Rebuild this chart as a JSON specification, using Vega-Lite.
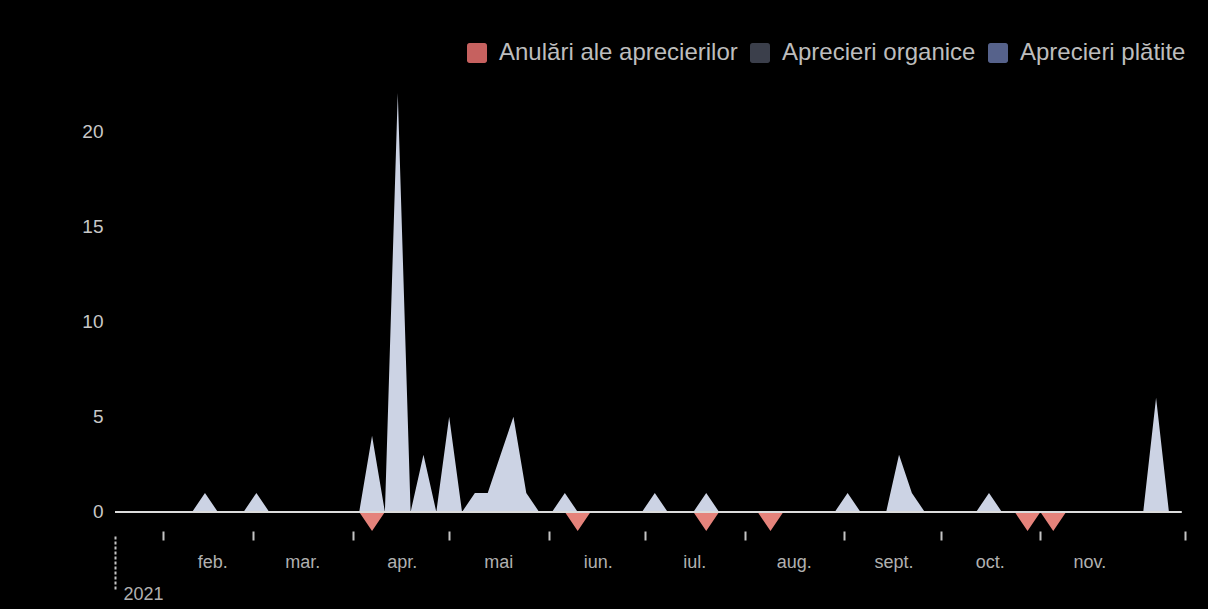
{
  "$schema": "https://vega.github.io/schema/vega-lite/v6.json",
  "width": 1070,
  "height": 438,
  "autosize": {"type": "none"},
  "padding": {"left": 115, "top": 93, "right": 23, "bottom": 78},
  "background": "#000000",
  "config": {"view": {"stroke": null}, "font": "Liberation Sans", "axis": {"title": null}},
  "datasets": {
    "serie": [
      {"data": "2021/01/17", "aprecieri": 0, "anulari": 0},
      {"data": "2021/01/21", "aprecieri": 0, "anulari": 0},
      {"data": "2021/01/25", "aprecieri": 0, "anulari": 0},
      {"data": "2021/01/29", "aprecieri": 0, "anulari": 0},
      {"data": "2021/02/02", "aprecieri": 0, "anulari": 0},
      {"data": "2021/02/06", "aprecieri": 0, "anulari": 0},
      {"data": "2021/02/10", "aprecieri": 0, "anulari": 0},
      {"data": "2021/02/14", "aprecieri": 1, "anulari": 0},
      {"data": "2021/02/18", "aprecieri": 0, "anulari": 0},
      {"data": "2021/02/22", "aprecieri": 0, "anulari": 0},
      {"data": "2021/02/26", "aprecieri": 0, "anulari": 0},
      {"data": "2021/03/02", "aprecieri": 1, "anulari": 0},
      {"data": "2021/03/06", "aprecieri": 0, "anulari": 0},
      {"data": "2021/03/10", "aprecieri": 0, "anulari": 0},
      {"data": "2021/03/14", "aprecieri": 0, "anulari": 0},
      {"data": "2021/03/18", "aprecieri": 0, "anulari": 0},
      {"data": "2021/03/22", "aprecieri": 0, "anulari": 0},
      {"data": "2021/03/26", "aprecieri": 0, "anulari": 0},
      {"data": "2021/03/30", "aprecieri": 0, "anulari": 0},
      {"data": "2021/04/03", "aprecieri": 0, "anulari": 0},
      {"data": "2021/04/07", "aprecieri": 4, "anulari": -1},
      {"data": "2021/04/11", "aprecieri": 0, "anulari": 0},
      {"data": "2021/04/15", "aprecieri": 22, "anulari": 0},
      {"data": "2021/04/19", "aprecieri": 0, "anulari": 0},
      {"data": "2021/04/23", "aprecieri": 3, "anulari": 0},
      {"data": "2021/04/27", "aprecieri": 0, "anulari": 0},
      {"data": "2021/05/01", "aprecieri": 5, "anulari": 0},
      {"data": "2021/05/05", "aprecieri": 0, "anulari": 0},
      {"data": "2021/05/09", "aprecieri": 1, "anulari": 0},
      {"data": "2021/05/13", "aprecieri": 1, "anulari": 0},
      {"data": "2021/05/17", "aprecieri": 3, "anulari": 0},
      {"data": "2021/05/21", "aprecieri": 5, "anulari": 0},
      {"data": "2021/05/25", "aprecieri": 1, "anulari": 0},
      {"data": "2021/05/29", "aprecieri": 0, "anulari": 0},
      {"data": "2021/06/02", "aprecieri": 0, "anulari": 0},
      {"data": "2021/06/06", "aprecieri": 1, "anulari": 0},
      {"data": "2021/06/10", "aprecieri": 0, "anulari": -1},
      {"data": "2021/06/14", "aprecieri": 0, "anulari": 0},
      {"data": "2021/06/18", "aprecieri": 0, "anulari": 0},
      {"data": "2021/06/22", "aprecieri": 0, "anulari": 0},
      {"data": "2021/06/26", "aprecieri": 0, "anulari": 0},
      {"data": "2021/06/30", "aprecieri": 0, "anulari": 0},
      {"data": "2021/07/04", "aprecieri": 1, "anulari": 0},
      {"data": "2021/07/08", "aprecieri": 0, "anulari": 0},
      {"data": "2021/07/12", "aprecieri": 0, "anulari": 0},
      {"data": "2021/07/16", "aprecieri": 0, "anulari": 0},
      {"data": "2021/07/20", "aprecieri": 1, "anulari": -1},
      {"data": "2021/07/24", "aprecieri": 0, "anulari": 0},
      {"data": "2021/07/28", "aprecieri": 0, "anulari": 0},
      {"data": "2021/08/01", "aprecieri": 0, "anulari": 0},
      {"data": "2021/08/05", "aprecieri": 0, "anulari": 0},
      {"data": "2021/08/09", "aprecieri": 0, "anulari": -1},
      {"data": "2021/08/13", "aprecieri": 0, "anulari": 0},
      {"data": "2021/08/17", "aprecieri": 0, "anulari": 0},
      {"data": "2021/08/21", "aprecieri": 0, "anulari": 0},
      {"data": "2021/08/25", "aprecieri": 0, "anulari": 0},
      {"data": "2021/08/29", "aprecieri": 0, "anulari": 0},
      {"data": "2021/09/02", "aprecieri": 1, "anulari": 0},
      {"data": "2021/09/06", "aprecieri": 0, "anulari": 0},
      {"data": "2021/09/10", "aprecieri": 0, "anulari": 0},
      {"data": "2021/09/14", "aprecieri": 0, "anulari": 0},
      {"data": "2021/09/18", "aprecieri": 3, "anulari": 0},
      {"data": "2021/09/22", "aprecieri": 1, "anulari": 0},
      {"data": "2021/09/26", "aprecieri": 0, "anulari": 0},
      {"data": "2021/09/30", "aprecieri": 0, "anulari": 0},
      {"data": "2021/10/04", "aprecieri": 0, "anulari": 0},
      {"data": "2021/10/08", "aprecieri": 0, "anulari": 0},
      {"data": "2021/10/12", "aprecieri": 0, "anulari": 0},
      {"data": "2021/10/16", "aprecieri": 1, "anulari": 0},
      {"data": "2021/10/20", "aprecieri": 0, "anulari": 0},
      {"data": "2021/10/24", "aprecieri": 0, "anulari": 0},
      {"data": "2021/10/28", "aprecieri": 0, "anulari": -1},
      {"data": "2021/11/01", "aprecieri": 0, "anulari": 0},
      {"data": "2021/11/05", "aprecieri": 0, "anulari": -1},
      {"data": "2021/11/09", "aprecieri": 0, "anulari": 0},
      {"data": "2021/11/13", "aprecieri": 0, "anulari": 0},
      {"data": "2021/11/17", "aprecieri": 0, "anulari": 0},
      {"data": "2021/11/21", "aprecieri": 0, "anulari": 0},
      {"data": "2021/11/25", "aprecieri": 0, "anulari": 0},
      {"data": "2021/11/29", "aprecieri": 0, "anulari": 0},
      {"data": "2021/12/03", "aprecieri": 0, "anulari": 0},
      {"data": "2021/12/07", "aprecieri": 6, "anulari": 0},
      {"data": "2021/12/11", "aprecieri": 0, "anulari": 0},
      {"data": "2021/12/15", "aprecieri": 0, "anulari": 0}
    ],
    "legenda": [
      {"serie": "Anulări ale aprecierilor"},
      {"serie": "Aprecieri organice"},
      {"serie": "Aprecieri plătite"}
    ],
    "baza": [
      {"start": "2021/01/17", "sfarsit": "2021/12/15", "valoare": 0}
    ]
  },
  "layer": [
    {
      "data": {"name": "serie"},
      "mark": {"type": "area", "color": "#e5837b", "interpolate": "linear"},
      "encoding": {
        "x": {
          "field": "data",
          "type": "temporal",
          "scale": {
            "domain": [
              {"year": 2021, "month": 1, "date": 17},
              {"year": 2021, "month": 12, "date": 16}
            ],
            "nice": false
          },
          "axis": {
            "orient": "bottom",
            "values": [
              {"year": 2021, "month": 2, "date": 1},
              {"year": 2021, "month": 3, "date": 1},
              {"year": 2021, "month": 4, "date": 1},
              {"year": 2021, "month": 5, "date": 1},
              {"year": 2021, "month": 6, "date": 1},
              {"year": 2021, "month": 7, "date": 1},
              {"year": 2021, "month": 8, "date": 1},
              {"year": 2021, "month": 9, "date": 1},
              {"year": 2021, "month": 10, "date": 1},
              {"year": 2021, "month": 11, "date": 1},
              {"year": 2021, "month": 12, "date": 16}
            ],
            "labelExpr": "date(datum.value) == 1 ? ['ian.','feb.','mar.','apr.','mai','iun.','iul.','aug.','sept.','oct.','nov.','dec.'][month(datum.value)] : ''",
            "offset": 0,
            "domain": false,
            "grid": false,
            "tickSize": 9,
            "tickWidth": 2,
            "tickColor": "#c4c4c4",
            "labelOffset": 49,
            "labelPadding": 13,
            "labelFontSize": 18,
            "labelColor": "#b0b0b0",
            "labelFlush": false,
            "labelOverlap": false,
            "labelBound": false,
            "title": null
          }
        },
        "y": {
          "field": "anulari",
          "type": "quantitative",
          "scale": {"domain": [-1, 22], "nice": false},
          "axis": {
            "values": [0, 5, 10, 15, 20],
            "domain": false,
            "ticks": false,
            "grid": false,
            "labelPadding": 12,
            "labelFontSize": 19,
            "labelColor": "#c8c8c8",
            "title": null
          }
        },
        "y2": {"datum": 0}
      }
    },
    {
      "data": {"name": "serie"},
      "mark": {"type": "area", "color": "#ccd3e4", "interpolate": "linear"},
      "encoding": {
        "x": {
          "field": "data",
          "type": "temporal",
          "axis": {
            "orient": "bottom",
            "values": [{"year": 2021, "month": 1, "date": 17}],
            "labelExpr": "'2021'",
            "offset": 5,
            "domain": false,
            "grid": false,
            "tickSize": 53,
            "tickWidth": 2,
            "tickDash": [3, 2],
            "tickColor": "#c4c4c4",
            "labelAlign": "left",
            "labelOffset": 8,
            "labelPadding": -4,
            "labelFontSize": 18,
            "labelColor": "#b0b0b0",
            "labelFlush": false,
            "labelBound": false,
            "title": null
          }
        },
        "y": {
          "field": "aprecieri",
          "type": "quantitative",
          "axis": {
            "values": [0, 5, 10, 15, 20],
            "domain": false,
            "ticks": false,
            "grid": false,
            "labelPadding": 12,
            "labelFontSize": 19,
            "labelColor": "#c8c8c8",
            "title": null
          }
        },
        "y2": {"datum": 0}
      }
    },
    {
      "data": {"name": "baza"},
      "mark": {"type": "rule", "color": "#dcdcdc", "strokeWidth": 2},
      "encoding": {
        "x": {"field": "start", "type": "temporal", "axis": null},
        "x2": {"field": "sfarsit"},
        "y": {
          "field": "valoare",
          "type": "quantitative",
          "axis": {
            "values": [0, 5, 10, 15, 20],
            "domain": false,
            "ticks": false,
            "grid": false,
            "labelPadding": 12,
            "labelFontSize": 19,
            "labelColor": "#c8c8c8",
            "title": null
          }
        }
      }
    },
    {
      "data": {"name": "legenda"},
      "mark": {"type": "point", "filled": true, "opacity": 0, "shape": "square"},
      "encoding": {
        "color": {
          "field": "serie",
          "type": "nominal",
          "scale": {
            "domain": ["Anulări ale aprecierilor", "Aprecieri organice", "Aprecieri plătite"],
            "range": ["#c6615f", "#3b3f4b", "#56628b"]
          },
          "legend": {
            "orient": "none",
            "direction": "horizontal",
            "legendX": 350,
            "legendY": -52,
            "title": null,
            "padding": 0,
            "symbolType": "M-0.75,-1H0.75A0.25,0.25 0 0 1 1,-0.75V0.75A0.25,0.25 0 0 1 0.75,1H-0.75A0.25,0.25 0 0 1 -1,0.75V-0.75A0.25,0.25 0 0 1 -0.75,-1Z",
            "symbolSize": 400,
            "symbolOpacity": 1,
            "symbolStrokeWidth": 0,
            "labelFontSize": 24,
            "labelColor": "#bdbdbd",
            "labelOffset": 10,
            "labelLimit": 400,
            "columnPadding": 10
          }
        }
      }
    }
  ],
  "resolve": {"axis": {"x": "independent"}}
}
